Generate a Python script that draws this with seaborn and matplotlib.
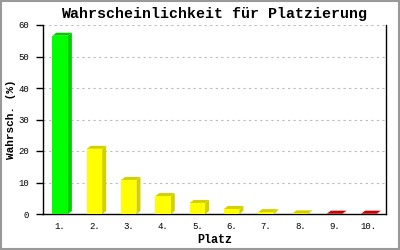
import matplotlib
matplotlib.use("Agg")
import matplotlib.pyplot as plt
from matplotlib.patches import Polygon, Rectangle
import seaborn as sns

places = ["1.", "2.", "3.", "4.", "5.", "6.", "7.", "8.", "9.", "10."]
values = [56.6, 20.7, 10.8, 5.7, 3.5, 1.6, 0.6, 0.2, 0.1, 0.1]
front_colors = ["#00ff00", "#ffff00", "#ffff00", "#ffff00", "#ffff00",
                "#ffff00", "#ffff00", "#ffff00", "#ff0000", "#ff0000"]
dark_colors = ["#00cc00", "#d4d000", "#d4d000", "#d4d000", "#d4d000",
               "#d4d000", "#d4d000", "#d4d000", "#cc0000", "#cc0000"]
title = "Wahrscheinlichkeit für Platzierung"
xlabel = "Platz"
ylabel = "Wahrsch. (%)"
yticks = [0, 10, 20, 30, 40, 50, 60]

sns.set_style("white")
plt.rcParams["font.family"] = ["Liberation Mono", "DejaVu Sans Mono"]
plt.rcParams["text.color"] = "black"
plt.rcParams["axes.labelcolor"] = "black"
plt.rcParams["xtick.color"] = "black"
plt.rcParams["ytick.color"] = "black"

fig = plt.figure(figsize=(4, 2.5), dpi=100)
ax = fig.add_axes([0.1075, 0.144, 0.8575, 0.756])

sns.barplot(x=places, y=values, hue=places, palette=front_colors, legend=False,
            width=0.45, saturation=1, ax=ax, zorder=3, linewidth=0)

ax.set_xlim(-0.5, 9.5)
ax.set_ylim(0, 60)

ax_w_px = 0.8575 * 400
ax_h_px = 0.756 * 250
dx = 4 / ax_w_px * 10
dy = 3 / ax_h_px * 60
for p, dc in zip(ax.patches, dark_colors):
    x0 = p.get_x()
    x1 = x0 + p.get_width()
    y1 = p.get_height()
    side = Polygon([(x1, 0), (x1 + dx, dy), (x1 + dx, y1 + dy), (x1, y1)],
                   closed=True, facecolor=dc, edgecolor="none", zorder=2.5, clip_on=False)
    top = Polygon([(x0, y1), (x1, y1), (x1 + dx, y1 + dy), (x0 + dx, y1 + dy)],
                  closed=True, facecolor=dc, edgecolor="none", zorder=3.5, clip_on=False)
    ax.add_patch(side)
    ax.add_patch(top)

ax.set_yticks(yticks)
ax.set_yticklabels([str(v) for v in yticks])
ax.yaxis.grid(True, linestyle=(0, (2, 3)), color="#bbbbbb", linewidth=0.8, zorder=0)
ax.xaxis.grid(False)
ax.set_axisbelow(True)

for s in ["left", "right", "bottom"]:
    ax.spines[s].set_visible(True)
    ax.spines[s].set_color("black")
    ax.spines[s].set_linewidth(1.0)
ax.spines["top"].set_visible(False)

ax.tick_params(axis="y", which="major", direction="out", length=5, width=1,
               color="black", labelcolor="black", labelsize=6.5, pad=5, left=True)
ax.tick_params(axis="x", which="major", length=0, labelsize=6.5, pad=6,
               labelcolor="black")

ax.set_title(title, fontsize=10.8, fontweight="bold", pad=5, color="black")
ax.set_xlabel(xlabel, fontsize=8.5, fontweight="bold", labelpad=2, color="black")
ax.set_ylabel(ylabel, fontsize=8, fontweight="bold", color="black")
ax.yaxis.set_label_coords(-0.078, 0.5)

fig.patches.append(Rectangle((0.002, 0.003), 0.995, 0.993, transform=fig.transFigure,
                             fill=False, edgecolor="#999999", linewidth=1.5))

fig.savefig("out.png", dpi=100)
